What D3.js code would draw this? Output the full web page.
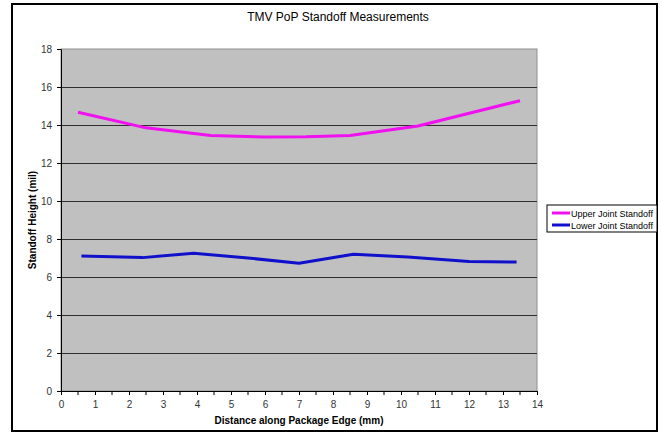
<!DOCTYPE html>
<html>
<head>
<meta charset="utf-8">
<script src="https://cdn.jsdelivr.net/npm/d3@7"></script>
<style>
  body { margin: 0; background: #fff; }
  text { font-family: Arial, "Liberation Sans", sans-serif; }
</style>
</head>
<body>
<div id="chart"></div>
<script>
// data
const upperX = [0.5, 2.5, 4.4, 6.0, 7.2, 8.5, 10.5, 13.5];
const upperY = [14.67, 13.85, 13.45, 13.37, 13.38, 13.45, 13.95, 15.28];
const lowerX = [0.6, 2.4, 3.9, 5.5, 7.0, 8.6, 10.2, 12.0, 13.4];
const lowerY = [7.1, 7.02, 7.25, 7.0, 6.72, 7.2, 7.05, 6.82, 6.79];
const seriesNames = ["Upper Joint Standoff", "Lower Joint Standoff"];
const seriesColors = ["#f010f0", "#1010cc"];
const xTicks = d3.range(0, 15, 1);
const yTicks = d3.range(0, 19, 2);

const svgWidth = 662, svgHeight = 434;
const margin = { top: 49, left: 61, right: 125, bottom: 43 };
const width = svgWidth - margin.left - margin.right;   // 476
const height = svgHeight - margin.top - margin.bottom; // 342

const svg = d3.select("#chart").append("svg")
    .attr("width", svgWidth)
    .attr("height", svgHeight);

// outer frame
svg.append("rect")
    .attr("x", 12).attr("y", 4)
    .attr("width", 645).attr("height", 427)
    .style("fill", "none")
    .style("stroke", "black")
    .style("stroke-width", 2);

svg.append("text")
    .attr("x", 338).attr("y", 21)
    .attr("text-anchor", "middle")
    .style("font-size", "12px")
    .text("TMV PoP Standoff Measurements");

const g = svg.append("g")
    .attr("transform", "translate(" + margin.left + "," + margin.top + ")");

const xScale = d3.scaleLinear().domain([0, 14]).range([0, width]);
const yScale = d3.scaleLinear().domain([0, 18]).range([height, 0]);

// plot area
g.append("rect")
    .attr("width", width).attr("height", height)
    .style("fill", "#c0c0c0")
    .style("stroke", "#909090");

// gridlines
g.selectAll(".grid")
    .data(yTicks.filter(d => d > 0 && d < 18))
    .enter().append("line")
    .attr("x1", 0).attr("x2", width)
    .attr("y1", d => yScale(d) + 0.5).attr("y2", d => yScale(d) + 0.5)
    .style("stroke", "#303030")
    .style("stroke-width", 1);

// axes
const xAxis = d3.axisBottom(xScale).tickValues(xTicks).tickSize(4).tickPadding(6);
const yAxis = d3.axisLeft(yScale).tickValues(yTicks).tickSize(4).tickPadding(5);

const xg = g.append("g")
    .attr("transform", "translate(0," + height + ")")
    .call(xAxis);
const yg = g.append("g").call(yAxis);

// minor ticks on x
xg.selectAll(".minor")
    .data(d3.range(0.5, 14, 1))
    .enter().append("line")
    .attr("x1", d => xScale(d)).attr("x2", d => xScale(d))
    .attr("y1", 0).attr("y2", 4)
    .style("stroke", "#000");

[xg, yg].forEach(a => {
    a.select(".domain").style("stroke", "#000");
    a.selectAll(".tick line").style("stroke", "#000");
    a.selectAll("text")
        .style("font-size", "10px")
        .style("fill", "#333")
        .style("font-family", "Arial, 'Liberation Sans', sans-serif");
});

// axis titles
svg.append("text")
    .attr("x", 299).attr("y", 424)
    .attr("text-anchor", "middle")
    .style("font-size", "10px")
    .style("font-weight", "bold")
    .text("Distance along Package Edge (mm)");

svg.append("text")
    .attr("transform", "translate(36," + (margin.top + height / 2) + ") rotate(-90)")
    .attr("text-anchor", "middle")
    .style("font-size", "10px")
    .style("font-weight", "bold")
    .text("Standoff Height (mil)");

// series
const line = d3.line().x(d => xScale(d[0])).y(d => yScale(d[1]));
const series = [
    d3.zip(upperX, upperY),
    d3.zip(lowerX, lowerY)
];
series.forEach((s, i) => {
    g.append("path")
        .datum(s)
        .attr("d", line)
        .style("fill", "none")
        .style("stroke", seriesColors[i])
        .style("stroke-width", 3)
        .style("stroke-linejoin", "round");
});

// legend
const legend = svg.append("g").attr("transform", "translate(547,205)");
legend.append("rect")
    .attr("width", 110).attr("height", 27)
    .style("fill", "#fff")
    .style("stroke", "#000");
seriesNames.forEach((name, i) => {
    const y = 8 + i * 12;
    legend.append("line")
        .attr("x1", 5).attr("x2", 23)
        .attr("y1", y).attr("y2", y)
        .style("stroke", seriesColors[i])
        .style("stroke-width", 3);
    legend.append("text")
        .attr("x", 24).attr("y", y + 3.5)
        .style("font-size", "9px")
        .text(name);
});
</script>
</body>
</html>
